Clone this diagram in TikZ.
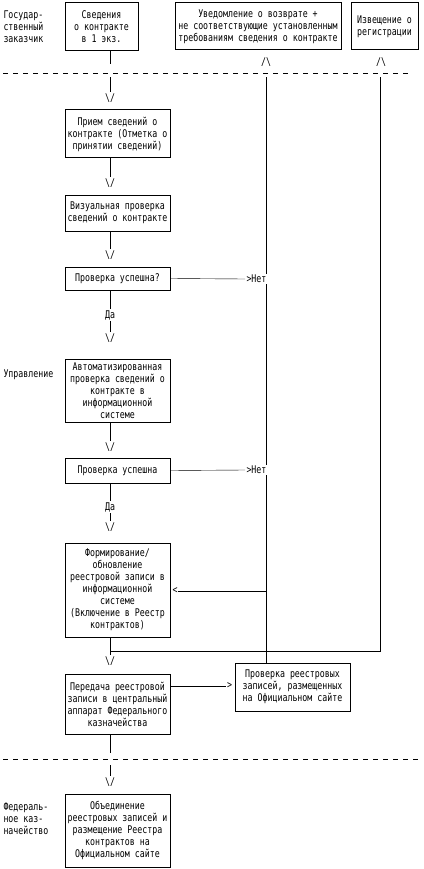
\documentclass[tikz,border=0pt]{standalone}
\usepackage{fontspec}
\newfontfamily\mono[FakeStretch=0.78]{DejaVu Sans Mono}
\pgfdeclarelayer{bg}
\pgfsetlayers{bg,main}
\begin{document}
\begin{tikzpicture}[x=1pt,y=-1pt,line width=1pt,
  every node/.style={font=\mono\fontsize{10.6}{12}\selectfont},
  box/.style={draw,inner sep=0pt,align=center},
  chev/.style={inner sep=1pt},
  lbl/.style={inner sep=0pt,align=left,anchor=west},
  tag/.style={inner sep=1pt,fill=white,anchor=west},
  sep/.style={dash pattern=on 5pt off 5pt}]
\useasboundingbox (0,0) rectangle (423,869);
% left labels
\node[lbl] (L1) at (3,27) {Государ-\\ственный\\заказчик};
\node[lbl] (L2) at (3,375) {Управление};
\node[lbl] (L3) at (3,819) {Федераль-\\ное каз-\\начейство};
% boxes
\node[box,minimum width=73,minimum height=48] (B1) at (101.5,27) {Сведения\\о контракте\\в 1 экз.};
\node[box,minimum width=166,minimum height=47] (B2) at (258,26.5) {Уведомление о возврате +\\не соответствующие установленным\\требованиям сведения о контракте};
\node[box,minimum width=67,minimum height=47] (B3) at (384.5,26.5) {Извещение о\\регистрации};
\node[box,minimum width=105,minimum height=48] (B4) at (117.5,134) {Прием сведений о\\контракте (Отметка о\\принятии сведений)};
\node[box,minimum width=105,minimum height=36] (B5) at (117.5,213) {Визуальная проверка\\сведений о контракте};
\node[box,minimum width=105,minimum height=23] (B6) at (117.5,278.5) {Проверка успешна?};
\node[box,minimum width=105,minimum height=63] (B7) at (117.5,390.5) {Автоматизированная\\проверка сведений о\\контракте в\\информационной\\системе};
\node[box,minimum width=105,minimum height=25] (B8) at (117.5,470.5) {Проверка успешна};
\node[box,minimum width=105,minimum height=94] (B9) at (117.5,590) {Формирование/\\обновление\\реестровой записи в\\информационной\\системе\\(Включение в Реестр\\контрактов)};
\node[box,minimum width=105,minimum height=60] (B10) at (117.5,704) {Передача реестровой\\записи в центральный\\аппарат Федерального\\казначейства};
\node[box,minimum width=115,minimum height=48] (B11) at (292.5,687) {Проверка реестровых\\записей, размещенных\\на Официальном сайте};
\node[box,minimum width=105,minimum height=73] (B12) at (117.5,830.5) {Объединение\\реестровых записей и\\размещение Реестра\\контрактов на\\Официальном сайте};
% arrow heads drawn as characters
\node[chev] (v1) at (110,98) {\textbackslash/};
\node[chev] (v2) at (110,183) {\textbackslash/};
\node[chev] (v3) at (110,255) {\textbackslash/};
\node[chev] (v4) at (110,338) {\textbackslash/};
\node[chev] (v5) at (110,447) {\textbackslash/};
\node[chev] (v6) at (110,527) {\textbackslash/};
\node[chev] (v7) at (110,661) {\textbackslash/};
\node[chev] (v8) at (110,782) {\textbackslash/};
\node[chev] (u1) at (266,62) {/\textbackslash};
\node[chev] (u2) at (381,62) {/\textbackslash};
\node[inner sep=1pt] (d1) at (110,315) {Да};
\node[inner sep=1pt] (d2) at (110,507) {Да};
\node[tag] (n1) at (245,279) {>Нет};
\node[tag] (n2) at (245,470) {>Нет};
\node[inner sep=0.5pt] (lt) at (175,591) {<};
\node[inner sep=0.5pt,anchor=east] (gt) at (233,686) {>};
\coordinate (j) at (110,651);
\begin{pgfonlayer}{bg}
\draw (B1.south -| v1) -- (v1.north);
\draw (B4.south -| v2) -- (v2.north);
\draw (B5.south -| v3) -- (v3.north);
\draw (B6.south -| d1) -- (d1.north);
\draw (d1.south) -- (v4.north);
\draw (B7.south -| v5) -- (v5.north);
\draw (B8.south -| d2) -- (d2.north);
\draw (d2.south) -- (v6.north);
\draw (B9.south -| v7) -- (v7.north);
\draw (B10.south -| v8) -- (v8.north);
\draw (B6.east) -- (n1.west);
\draw (B8.east) -- (n2.west);
\draw (u1.south -| 266,0) -- (B11.north -| 266,0);
\draw (B11.north -| 266,0) |- (lt.east);
\draw (u2.south -| 380,0) |- (j);
\draw (B10.east |- gt) -- (gt.west);
% separators between participants
\fill[white] (0,64) rectangle (423,77);
\fill[white] (0,753) rectangle (423,765);
\draw[sep] (3,73) -- (410,73);
\draw[sep] (3,759) -- (420,759);
\end{pgfonlayer}
\end{tikzpicture}
\end{document}
